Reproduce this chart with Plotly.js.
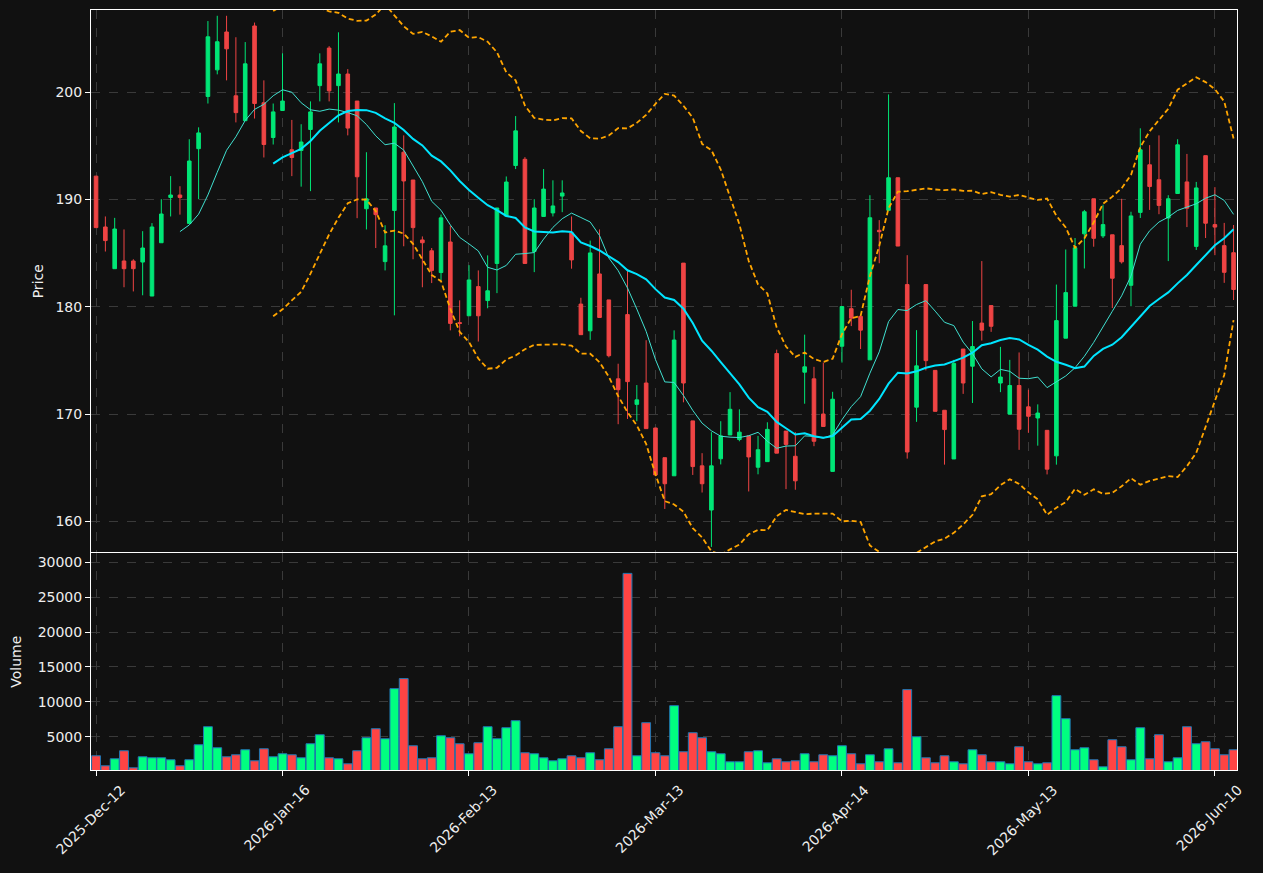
<!DOCTYPE html>
<html>
<head>
<meta charset="utf-8">
<script src="https://cdn.plot.ly/plotly-3.0.1.min.js"></script>
<style>
  html, body { margin: 0; padding: 0; background: #111111; }
  #chart { width: 1263px; height: 873px; }
</style>
</head>
<body>
<div id="chart"></div>
<script>
// ---- Data ----
const tickIndex = [0, 20, 40, 60, 80, 100, 120];
const tickLabels = ['2025-Dec-12', '2026-Jan-16', '2026-Feb-13', '2026-Mar-13', '2026-Apr-14', '2026-May-13', '2026-Jun-10'];

const openPrices = [
  192.18, 187.44, 183.55, 184.27, 184.27, 184.17, 181.00, 185.97, 190.19, 190.42,
  187.77, 194.74, 199.61, 202.09, 205.62, 199.67, 197.35, 206.18, 199.02, 195.78,
  198.30, 194.64, 194.57, 196.53, 200.62, 204.12, 200.62, 201.70, 199.18, 189.14,
  189.21, 184.21, 188.98, 194.41, 191.82, 186.23, 185.22, 183.19, 186.04, 178.52,
  179.16, 181.88, 180.58, 184.04, 188.46, 193.17, 193.75, 185.15, 188.42, 188.75,
  190.32, 186.89, 180.25, 177.76, 183.06, 180.64, 173.28, 179.27, 170.90, 172.89,
  168.70, 165.93, 164.24, 184.07, 169.36, 165.17, 161.05, 165.83, 168.05, 167.62,
  167.96, 165.04, 165.56, 175.64, 168.41, 166.06, 173.90, 173.28, 170.00, 164.65,
  176.32, 179.82, 179.10, 175.05, 187.13, 188.99, 192.03, 182.07, 170.64, 182.07,
  174.07, 170.35, 165.81, 176.06, 174.46, 178.48, 180.11, 172.89, 169.99, 172.66,
  170.67, 169.63, 168.48, 166.10, 177.07, 180.05, 186.80, 190.07, 186.61, 186.71,
  185.70, 182.00, 188.80, 193.24, 191.84, 188.28, 190.56, 191.64, 185.63, 194.09,
  187.66, 185.70, 185.04
];
const highPrices = [
  192.20, 188.42, 188.29, 187.21, 184.43, 187.05, 187.80, 190.03, 192.18, 191.24,
  195.62, 196.73, 206.64, 207.13, 207.13, 205.13, 204.68, 206.50, 201.11, 198.95,
  203.63, 197.42, 197.02, 199.15, 203.63, 204.30, 205.59, 202.16, 199.18, 194.41,
  189.21, 187.60, 198.99, 195.98, 191.82, 186.56, 185.48, 188.59, 187.54, 180.60,
  183.88, 183.39, 184.79, 189.21, 192.15, 197.78, 193.95, 190.03, 192.84, 191.79,
  191.79, 188.42, 180.84, 186.17, 187.21, 180.64, 174.69, 183.36, 172.70, 176.88,
  168.70, 165.93, 177.80, 184.07, 169.36, 166.35, 168.31, 169.33, 172.04, 170.44,
  167.96, 167.96, 169.23, 176.00, 168.41, 168.31, 177.40, 174.40, 174.80, 172.07,
  180.02, 181.59, 179.23, 190.40, 188.08, 199.80, 192.03, 184.81, 177.82, 182.07,
  174.07, 170.35, 175.05, 176.06, 178.67, 184.26, 180.11, 176.26, 175.05, 175.74,
  172.27, 170.90, 168.48, 182.07, 185.34, 186.41, 189.03, 190.07, 189.52, 186.71,
  190.07, 188.86, 196.64, 195.07, 195.98, 190.40, 195.62, 194.25, 191.64, 194.09,
  191.15, 187.82, 187.62
];
const lowPrices = [
  187.38, 185.15, 183.55, 181.82, 181.43, 181.07, 181.00, 185.97, 188.42, 188.59,
  187.77, 190.03, 198.95, 201.67, 201.11, 197.19, 197.35, 197.55, 193.92, 195.13,
  198.30, 192.18, 191.20, 190.78, 199.15, 199.15, 197.19, 195.98, 188.26, 187.21,
  185.48, 183.39, 179.20, 185.64, 184.43, 181.82, 182.21, 182.47, 177.80, 177.25,
  179.16, 176.76, 179.86, 181.27, 188.46, 192.84, 184.04, 183.23, 188.42, 188.42,
  188.82, 183.55, 177.40, 176.91, 179.00, 175.28, 169.05, 169.54, 169.33, 168.64,
  164.32, 161.15, 164.24, 171.09, 164.32, 162.68, 157.61, 165.30, 168.05, 167.46,
  162.78, 164.38, 165.56, 166.35, 163.00, 162.94, 170.96, 167.00, 168.84, 164.65,
  174.80, 178.20, 176.06, 175.05, 184.06, 188.99, 185.66, 165.84, 169.27, 174.07,
  170.25, 165.28, 165.81, 171.88, 171.03, 176.85, 177.66, 172.04, 169.99, 166.66,
  168.26, 167.05, 164.37, 165.28, 177.07, 180.05, 183.57, 185.60, 186.41, 179.88,
  184.03, 180.05, 188.28, 189.03, 188.63, 184.26, 190.56, 187.43, 185.30, 186.41,
  184.81, 182.23, 180.63
];
const closePrices = [
  187.38, 186.17, 187.25, 183.55, 183.55, 185.48, 187.44, 188.65, 190.42, 190.19,
  193.59, 196.21, 205.17, 204.71, 204.05, 198.10, 202.65, 198.95, 195.13, 198.17,
  199.18, 193.92, 195.36, 198.17, 202.65, 200.13, 201.70, 196.66, 192.12, 190.06,
  188.59, 185.68, 196.76, 191.73, 187.38, 185.97, 183.39, 188.29, 178.45, 178.45,
  182.50, 179.16, 181.49, 189.21, 191.63, 196.40, 184.04, 189.21, 190.97, 189.40,
  190.61, 184.37, 177.40, 185.02, 179.00, 175.44, 172.27, 173.02, 171.32, 168.64,
  164.32, 163.50, 176.90, 172.89, 165.10, 163.50, 165.17, 167.96, 170.44, 168.31,
  166.00, 166.67, 168.57, 166.35, 167.17, 163.77, 174.40, 167.46, 168.84, 171.38,
  180.02, 178.94, 177.82, 188.30, 187.00, 192.03, 185.66, 166.46, 174.49, 174.98,
  170.25, 168.55, 174.72, 172.89, 176.29, 177.82, 178.18, 173.45, 172.66, 168.58,
  169.79, 170.09, 164.86, 178.71, 181.32, 185.50, 188.86, 186.38, 187.66, 182.66,
  184.19, 188.47, 194.64, 191.21, 189.45, 190.07, 195.10, 189.19, 191.08, 187.79,
  187.43, 183.21, 181.61
];
const volumes = [
  2270, 833, 1840, 2990, 546, 2127, 1983, 1983, 1696, 833,
  1696, 3851, 6438, 3420, 2127, 2414, 3133, 1552, 3276, 2127,
  2558, 2414, 1983, 3995, 5288, 1983, 1840, 1121, 2990, 4857,
  6150, 4713, 11898, 13335, 3707, 1840, 1983, 5144, 4857, 3995,
  2558, 4139, 6438, 4713, 6294, 7300, 2702, 2558, 1983, 1552,
  1840, 2270, 1983, 2702, 1696, 3276, 6438, 28424, 2270, 7013,
  2702, 2270, 9455, 2845, 5576, 4857, 2845, 2558, 1408, 1408,
  2845, 2990, 1265, 1840, 1408, 1552, 2558, 1408, 2414, 2270,
  3707, 2558, 1121, 2414, 1408, 3276, 1265, 11755, 5000, 1983,
  1265, 2270, 1408, 1121, 3133, 2414, 1408, 1408, 1121, 3564,
  1408, 1121, 1265, 10892, 7587, 3133, 3420, 1696, 690, 4570,
  3564, 1696, 6294, 1840, 5288, 1408, 1983, 6438, 3995, 4282,
  3276, 2414, 3133
];
const maShort = 10;   // thin line
const maLong = 20;    // thick line and Bollinger basis
const bandWidth = 2;  // standard deviations

// ---- Derived series (rolling statistics of the closes) ----
const xs = closePrices.map((_, i) => i);
function rollingMean(arr, n) {
  return arr.map((_, i) => {
    if (i < n - 1) return null;
    let s = 0;
    for (let k = i - n + 1; k <= i; k++) s += arr[k];
    return s / n;
  });
}
function rollingStd(arr, n) {
  return arr.map((_, i) => {
    if (i < n - 1) return null;
    let s = 0;
    for (let k = i - n + 1; k <= i; k++) s += arr[k];
    const m = s / n;
    let v = 0;
    for (let k = i - n + 1; k <= i; k++) v += (arr[k] - m) * (arr[k] - m);
    return Math.sqrt(v / n);
  });
}
const ma10 = rollingMean(closePrices, maShort);
const ma20 = rollingMean(closePrices, maLong);
const sd20 = rollingStd(closePrices, maLong);
const upperBand = ma20.map((m, i) => m === null ? null : m + bandWidth * sd20[i]);
const lowerBand = ma20.map((m, i) => m === null ? null : m - bandWidth * sd20[i]);

const UP = '#00e676', DOWN = '#ef4444';
const VUP = '#00ff80', VDOWN = '#ff4444';
const volColors = closePrices.map((c, i) => c >= openPrices[i] ? VUP : VDOWN);

const GRID = '#3a3a3a';
const FONT = 'DejaVu Sans, Liberation Sans, sans-serif';
const TXT = '#eeeeee';

const traces = [
  {
    type: 'candlestick', x: xs, open: openPrices, high: highPrices, low: lowPrices, close: closePrices,
    xaxis: 'x', yaxis: 'y',
    increasing: { line: { color: UP, width: 1 }, fillcolor: UP },
    decreasing: { line: { color: DOWN, width: 1 }, fillcolor: DOWN },
    whiskerwidth: 0, showlegend: false, hoverinfo: 'skip'
  },
  {
    type: 'scatter', mode: 'lines', x: xs, y: ma10, xaxis: 'x', yaxis: 'y',
    line: { color: '#40e0d0', width: 1 }, showlegend: false, hoverinfo: 'skip'
  },
  {
    type: 'scatter', mode: 'lines', x: xs, y: ma20, xaxis: 'x', yaxis: 'y',
    line: { color: '#00e5ff', width: 2 }, showlegend: false, hoverinfo: 'skip'
  },
  {
    type: 'scatter', mode: 'lines', x: xs, y: upperBand, xaxis: 'x', yaxis: 'y',
    line: { color: '#ffa500', width: 1.8, dash: '5px,3px' }, showlegend: false, hoverinfo: 'skip'
  },
  {
    type: 'scatter', mode: 'lines', x: xs, y: lowerBand, xaxis: 'x', yaxis: 'y',
    line: { color: '#ffa500', width: 1.8, dash: '5px,3px' }, showlegend: false, hoverinfo: 'skip'
  },
  {
    type: 'bar', x: xs, y: volumes, xaxis: 'x2', yaxis: 'y2', width: 0.95,
    marker: { color: volColors, line: { color: '#1f77b4', width: 1 } },
    showlegend: false, hoverinfo: 'skip'
  }
];

const xRange = [-0.54, 122.37];
const commonX = {
  range: xRange, tickmode: 'array', tickvals: tickIndex,
  showgrid: true, gridcolor: GRID, griddash: 'dash', gridwidth: 1,
  showline: true, linecolor: '#ffffff', linewidth: 1, mirror: true,
  zeroline: false, fixedrange: true
};

// Date labels: rotated 45 degrees and centred under each tick
const dateAnnotations = tickIndex.map((v, i) => ({
  x: v, xref: 'x2', y: 0, yref: 'paper',
  text: tickLabels[i], textangle: -45, showarrow: false,
  xanchor: 'center', yanchor: 'top', yshift: -9, xshift: -6,
  font: { family: FONT, size: 14, color: TXT }
}));

const layout = {
  width: 1263, height: 873,
  paper_bgcolor: '#111111', plot_bgcolor: '#111111',
  margin: { l: 91, r: 26, t: 10, b: 103 },
  font: { family: FONT, size: 14, color: TXT },
  showlegend: false,
  boxgap: 0.45,
  barmode: 'overlay',
  annotations: dateAnnotations,
  xaxis: Object.assign({}, commonX, {
    anchor: 'y', showticklabels: false, ticks: '',
    rangeslider: { visible: false }
  }),
  xaxis2: Object.assign({}, commonX, {
    anchor: 'y2', showticklabels: false,
    ticks: 'outside', ticklen: 5, tickcolor: '#ffffff'
  }),
  yaxis: {
    domain: [0.2862, 1], range: [157.09, 207.67], dtick: 10, tick0: 0,
    showgrid: true, gridcolor: GRID, griddash: 'dash',
    showline: true, linecolor: '#ffffff', mirror: true, zeroline: false,
    ticks: 'outside', ticklen: 5, tickcolor: '#ffffff',
    tickfont: { family: FONT, size: 14, color: TXT },
    title: { text: 'Price', font: { family: FONT, size: 14, color: TXT }, standoff: 8 },
    fixedrange: true
  },
  yaxis2: {
    domain: [0, 0.2851], range: [230, 31300], tickvals: [5000, 10000, 15000, 20000, 25000, 30000],
    ticktext: ['5000', '10000', '15000', '20000', '25000', '30000'],
    showgrid: true, gridcolor: GRID, griddash: 'dash',
    showline: true, linecolor: '#ffffff', mirror: true, zeroline: false,
    ticks: 'outside', ticklen: 5, tickcolor: '#ffffff',
    tickfont: { family: FONT, size: 14, color: TXT },
    title: { text: 'Volume', font: { family: FONT, size: 14, color: TXT }, standoff: 12 },
    fixedrange: true
  }
};

Plotly.newPlot('chart', traces, layout, { displayModeBar: false, staticPlot: true });
</script>
</body>
</html>
